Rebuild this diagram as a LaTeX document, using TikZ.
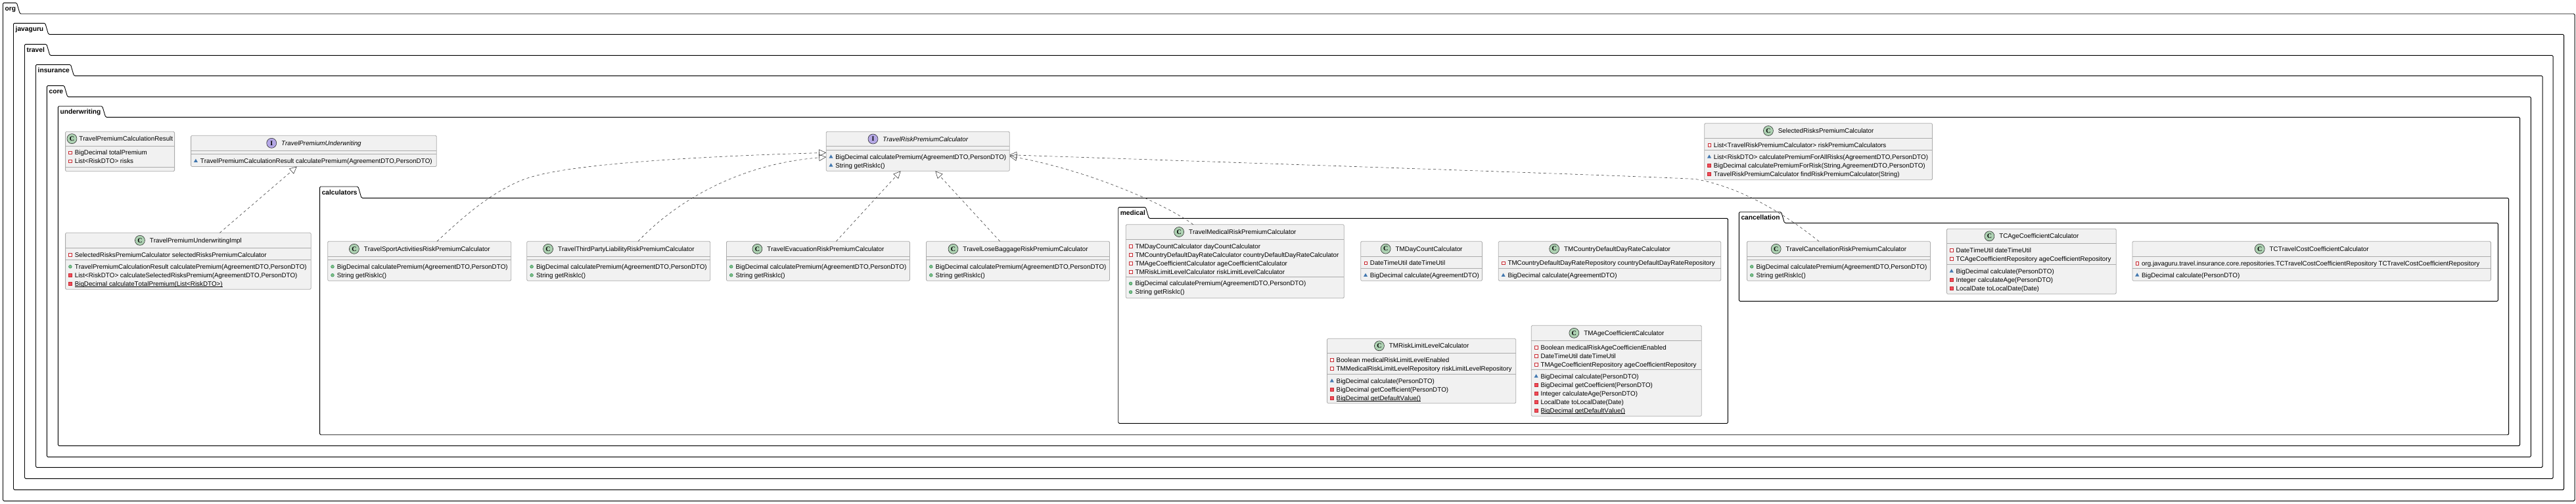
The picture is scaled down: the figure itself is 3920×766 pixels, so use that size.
\documentclass[tikz,border=0pt]{standalone}
\usepackage{fontspec}
\setmainfont[Kerning=Off]{Liberation Sans}
\newfontfamily\iconfont{Liberation Serif}
\usetikzlibrary{shapes.geometric,positioning,arrows.meta}
\definecolor{classbg}{HTML}{F1F1F1}
\definecolor{classedge}{HTML}{ABABAB}
\definecolor{spotC}{HTML}{ADD1B2}
\definecolor{spotI}{HTML}{B4A7E5}
\definecolor{privedge}{HTML}{C82930}
\definecolor{privfill}{HTML}{F24D5C}
\definecolor{pubedge}{HTML}{038048}
\definecolor{pubfill}{HTML}{84BE84}
\definecolor{pkgfill}{HTML}{4177AF}
\newcommand{\titleshift}{11.5}
\newcommand{\titlegap}{7pt}
\newcommand{\staticrow}[1]{\setbox0\hbox{#1}\rlap{\rule[-1.5pt]{\wd0}{.55pt}}\box0}
\newcommand{\umlpackage}[8]{
    \draw[pkgline] (#2,#5) -- (#2,#4) -- ({#3-5},#4) -- (#3,#5) -- (#6,#5) -- (#6,#7) -- (#2,#7) -- cycle;
    \node[pkglabel] (#1) at ({#2+3},{(#4+#5)/2}) {#8};
}
\newcommand{\umlclass}[9]{
    \node[classbox,minimum width=#5pt,minimum height=#8pt] (#1) at (#3,#4) {};
    \coordinate (#1-f) at ([yshift=-#6pt]#1.north west);
    \coordinate (#1-m) at ([yshift=-#7pt]#1.north west);
    \draw[classline] (#1-f) -- (#1-f -| #1.east);
    \draw[classline] (#1-m) -- (#1-m -| #1.east);
    \node[#2title] (#1-t) at ([shift={(\titleshift,{#6/2})}]#1.north) {#9};
    \node[#2icon,left=\titlegap of #1-t] (#1-i) {\MakeUppercase{#2}};
}
\newcommand{\umlrow}[5]{
    \node[#4] (#1-#2#3i) at ([shift={(7.3,{10.5+13*(#3-1)})}]#1-#2) {};
    \node[rowtext] (#1-#2#3t) at ([shift={(14,{13.9+13*(#3-1)})}]#1-#2) {#5};
}
\begin{document}
\begin{tikzpicture}[x=1pt,y=-1pt,
    pkgline/.style={draw=black,line width=.9pt,rounded corners=1.5pt},
    pkglabel/.style={anchor=west,inner sep=0pt,font=\fontsize{10.2}{12}\selectfont\bfseries,text height=7pt,text depth=0pt},
    classbox/.style={draw=classedge,fill=classbg,line width=.8pt,rounded corners=1.5pt,anchor=north west,inner sep=0pt,outer sep=0pt},
    classline/.style={draw=classedge,line width=.8pt},
    spot/.style={circle,draw=black!85,line width=.55pt,minimum size=15pt,inner sep=0pt,font=\iconfont\fontsize{10}{10}\selectfont\bfseries},
    cicon/.style={spot,fill=spotC},
    iicon/.style={spot,fill=spotI},
    ctitle/.style={inner sep=0pt,font=\fontsize{9.8}{12}\selectfont,text height=7pt,text depth=0pt},
    ititle/.style={ctitle,font=\fontsize{9.8}{12}\selectfont\itshape},
    rowtext/.style={anchor=base west,inner sep=0pt,font=\fontsize{9.8}{12}\selectfont},
    privf/.style={rectangle,draw=privedge,fill=white,line width=.6pt,minimum size=4.4pt,inner sep=0pt},
    privm/.style={rectangle,draw=privedge,fill=privfill,line width=.3pt,minimum size=4.8pt,inner sep=0pt},
    pubm/.style={circle,draw=pubedge,fill=pubfill,line width=.4pt,minimum size=4.8pt,inner sep=0pt},
    pkgm/.style={regular polygon,regular polygon sides=3,fill=pkgfill,minimum size=7pt,inner sep=0pt},
    realize/.style={draw=black!80,line width=.55pt,dash pattern=on 4pt off 4pt,-{Triangle[open,length=11pt,width=10.5pt]}}]
    \useasboundingbox (0,0) rectangle (3920,766);

    \umlpackage{org}{4.5}{30.4}{4.3}{21}{3918}{762.3}{org}
    \umlpackage{javaguru}{20.5}{73.7}{35.3}{52.3}{3901.5}{745.3}{javaguru}
    \umlpackage{travel}{37.5}{75.9}{67.3}{84.3}{3885}{728.3}{travel}
    \umlpackage{insurance}{54.5}{112.5}{98.3}{115.3}{3869}{711.3}{insurance}
    \umlpackage{core}{71.4}{102.7}{130.3}{147.3}{3851.3}{695.3}{core}
    \umlpackage{underwriting}{88.4}{160.7}{161.7}{178.3}{3834.5}{678.3}{underwriting}
    \umlpackage{calculators}{486.6}{550}{284}{301.3}{3817.6}{661.7}{calculators}
    \umlpackage{medicalpkg}{1701.7}{1748.3}{315.3}{332.3}{2629.4}{644.3}{medical}
    \umlpackage{cancellation}{2646.3}{2715.5}{322.7}{339.3}{3801.3}{458.3}{cancellation}

    {\renewcommand{\titleshift}{9.2}\renewcommand{\titlegap}{3pt}
    \umlclass{result}{c}{99.6}{200.3}{166}{21.7}{54}{60.4}{TravelPremiumCalculationResult}}
    \umlrow{result}{f}{1}{privf}{BigDecimal totalPremium}
    \umlrow{result}{f}{2}{privf}{List<RiskDTO> risks}

    \umlclass{underwriter}{i}{290.6}{206.3}{373.7}{23}{28.4}{47.2}{TravelPremiumUnderwriting}
    \umlrow{underwriter}{m}{1}{pkgm}{TravelPremiumCalculationResult calculatePremium(AgreementDTO,PersonDTO)}

    \umlclass{impl}{c}{99.6}{354.3}{373.6}{23}{41}{86}{TravelPremiumUnderwritingImpl}
    \umlrow{impl}{f}{1}{privf}{SelectedRisksPremiumCalculator selectedRisksPremiumCalculator}
    \umlrow{impl}{m}{1}{pubm}{TravelPremiumCalculationResult calculatePremium(AgreementDTO,PersonDTO)}
    \umlrow{impl}{m}{2}{privm}{List<RiskDTO> calculateSelectedRisksPremium(AgreementDTO,PersonDTO)}
    \umlrow{impl}{m}{3}{privm}{\staticrow{BigDecimal calculateTotalPremium(List<RiskDTO>)}}

    \umlclass{risk}{i}{1257.2}{200.3}{279.1}{22.4}{28}{60}{TravelRiskPremiumCalculator}
    \umlrow{risk}{m}{1}{pkgm}{BigDecimal calculatePremium(AgreementDTO,PersonDTO)}
    \umlrow{risk}{m}{2}{pkgm}{String getRiskIc()}

    \umlclass{selected}{c}{2593.7}{187.7}{346.8}{22.6}{40.6}{86}{SelectedRisksPremiumCalculator}
    \umlrow{selected}{f}{1}{privf}{List<TravelRiskPremiumCalculator> riskPremiumCalculators}
    \umlrow{selected}{m}{1}{pkgm}{List<RiskDTO> calculatePremiumForAllRisks(AgreementDTO,PersonDTO)}
    \umlrow{selected}{m}{2}{privm}{BigDecimal calculatePremiumForRisk(String,AgreementDTO,PersonDTO)}
    \umlrow{selected}{m}{3}{privm}{TravelRiskPremiumCalculator findRiskPremiumCalculator(String)}

    \umlclass{sport}{c}{498.7}{367.3}{279}{23}{28}{60}{TravelSportActivitiesRiskPremiumCalculator}
    \umlrow{sport}{m}{1}{pubm}{BigDecimal calculatePremium(AgreementDTO,PersonDTO)}
    \umlrow{sport}{m}{2}{pubm}{String getRiskIc()}

    \umlclass{third}{c}{801.8}{367.3}{279}{23}{28}{60}{TravelThirdPartyLiabilityRiskPremiumCalculator}
    \umlrow{third}{m}{1}{pubm}{BigDecimal calculatePremium(AgreementDTO,PersonDTO)}
    \umlrow{third}{m}{2}{pubm}{String getRiskIc()}

    \umlclass{evacuation}{c}{1105.4}{367.3}{279}{23}{28}{60}{TravelEvacuationRiskPremiumCalculator}
    \umlrow{evacuation}{m}{1}{pubm}{BigDecimal calculatePremium(AgreementDTO,PersonDTO)}
    \umlrow{evacuation}{m}{2}{pubm}{String getRiskIc()}

    \umlclass{baggage}{c}{1409.5}{367.3}{279}{23}{28}{60}{TravelLoseBaggageRiskPremiumCalculator}
    \umlrow{baggage}{m}{1}{pubm}{BigDecimal calculatePremium(AgreementDTO,PersonDTO)}
    \umlrow{baggage}{m}{2}{pubm}{String getRiskIc()}

    \umlclass{medical}{c}{1713.3}{341.7}{332}{22.6}{79.3}{112}{TravelMedicalRiskPremiumCalculator}
    \umlrow{medical}{f}{1}{privf}{TMDayCountCalculator dayCountCalculator}
    \umlrow{medical}{f}{2}{privf}{TMCountryDefaultDayRateCalculator countryDefaultDayRateCalculator}
    \umlrow{medical}{f}{3}{privf}{TMAgeCoefficientCalculator ageCoefficientCalculator}
    \umlrow{medical}{f}{4}{privf}{TMRiskLimitLevelCalculator riskLimitLevelCalculator}
    \umlrow{medical}{m}{1}{pubm}{BigDecimal calculatePremium(AgreementDTO,PersonDTO)}
    \umlrow{medical}{m}{2}{pubm}{String getRiskIc()}

    \umlclass{tmday}{c}{2070.7}{367.3}{184.7}{22.7}{41.4}{60}{TMDayCountCalculator}
    \umlrow{tmday}{f}{1}{privf}{DateTimeUtil dateTimeUtil}
    \umlrow{tmday}{m}{1}{pkgm}{BigDecimal calculate(AgreementDTO)}

    \umlclass{tmcountry}{c}{2280.3}{367.3}{338.4}{22.7}{41.4}{60}{TMCountryDefaultDayRateCalculator}
    \umlrow{tmcountry}{f}{1}{privf}{TMCountryDefaultDayRateRepository countryDefaultDayRateRepository}
    \umlrow{tmcountry}{m}{1}{pkgm}{BigDecimal calculate(AgreementDTO)}

    \umlclass{tmrisk}{c}{2019.5}{515.3}{287.2}{22}{54}{98.4}{TMRiskLimitLevelCalculator}
    \umlrow{tmrisk}{f}{1}{privf}{Boolean medicalRiskLimitLevelEnabled}
    \umlrow{tmrisk}{f}{2}{privf}{TMMedicalRiskLimitLevelRepository riskLimitLevelRepository}
    \umlrow{tmrisk}{m}{1}{pkgm}{BigDecimal calculate(PersonDTO)}
    \umlrow{tmrisk}{m}{2}{privm}{BigDecimal getCoefficient(PersonDTO)}
    \umlrow{tmrisk}{m}{3}{privm}{\staticrow{BigDecimal getDefaultValue()}}

    \umlclass{tmage}{c}{2330.3}{495.3}{259}{23}{67}{138}{TMAgeCoefficientCalculator}
    \umlrow{tmage}{f}{1}{privf}{Boolean medicalRiskAgeCoefficientEnabled}
    \umlrow{tmage}{f}{2}{privf}{DateTimeUtil dateTimeUtil}
    \umlrow{tmage}{f}{3}{privf}{TMAgeCoefficientRepository ageCoefficientRepository}
    \umlrow{tmage}{m}{1}{pkgm}{BigDecimal calculate(PersonDTO)}
    \umlrow{tmage}{m}{2}{privm}{BigDecimal getCoefficient(PersonDTO)}
    \umlrow{tmage}{m}{3}{privm}{Integer calculateAge(PersonDTO)}
    \umlrow{tmage}{m}{4}{privm}{LocalDate toLocalDate(Date)}
    \umlrow{tmage}{m}{5}{privm}{\staticrow{BigDecimal getDefaultValue()}}

    \umlclass{cancel}{c}{2658.4}{367.3}{279}{23}{28}{60}{TravelCancellationRiskPremiumCalculator}
    \umlrow{cancel}{m}{1}{pubm}{BigDecimal calculatePremium(AgreementDTO,PersonDTO)}
    \umlrow{cancel}{m}{2}{pubm}{String getRiskIc()}

    \umlclass{tcage}{c}{2962.4}{348.3}{257.8}{22}{54}{99}{TCAgeCoefficientCalculator}
    \umlrow{tcage}{f}{1}{privf}{DateTimeUtil dateTimeUtil}
    \umlrow{tcage}{f}{2}{privf}{TCAgeCoefficientRepository ageCoefficientRepository}
    \umlrow{tcage}{m}{1}{pkgm}{BigDecimal calculate(PersonDTO)}
    \umlrow{tcage}{m}{2}{privm}{Integer calculateAge(PersonDTO)}
    \umlrow{tcage}{m}{3}{privm}{LocalDate toLocalDate(Date)}

    \umlclass{tctravel}{c}{3244.9}{367.3}{545.4}{23}{41}{60}{TCTravelCostCoefficientCalculator}
    \umlrow{tctravel}{f}{1}{privf}{org.javaguru.travel.insurance.core.repositories.TCTravelCostCoefficientRepository TCTravelCostCoefficientRepository}
    \umlrow{tctravel}{m}{1}{pkgm}{BigDecimal calculate(PersonDTO)}

    \draw[realize] ([xshift=234.8pt]impl.north west) -- ([xshift=161.2pt]underwriter.south west);
    \draw[realize] ([xshift=166.3pt]sport.north west) .. controls (705,330) and (750,290) .. (800,272) .. controls (870,247) and (1100,237) .. ([yshift=-32pt]risk.north west);
    \draw[realize] ([xshift=169.2pt]third.north west) .. controls (1025,310) and (1120,250) .. ([yshift=-38.7pt]risk.north west);
    \draw[realize] ([xshift=167pt]evacuation.north west) -- ([xshift=113.4pt]risk.south west);
    \draw[realize] ([xshift=112.2pt]baggage.north west) -- ([xshift=166.1pt]risk.south west);
    \draw[realize] ([xshift=102.4pt]medical.north west) .. controls (1770,308) and (1650,258) .. ([yshift=-37.4pt]risk.north east);
    \draw[realize] ([xshift=109.6pt]cancel.north west) .. controls (2715,325) and (2650,285) .. (2580,272.5) .. controls (2500,268) and (1900,248) .. ([yshift=-35.4pt]risk.north east);
\end{tikzpicture}
\end{document}
